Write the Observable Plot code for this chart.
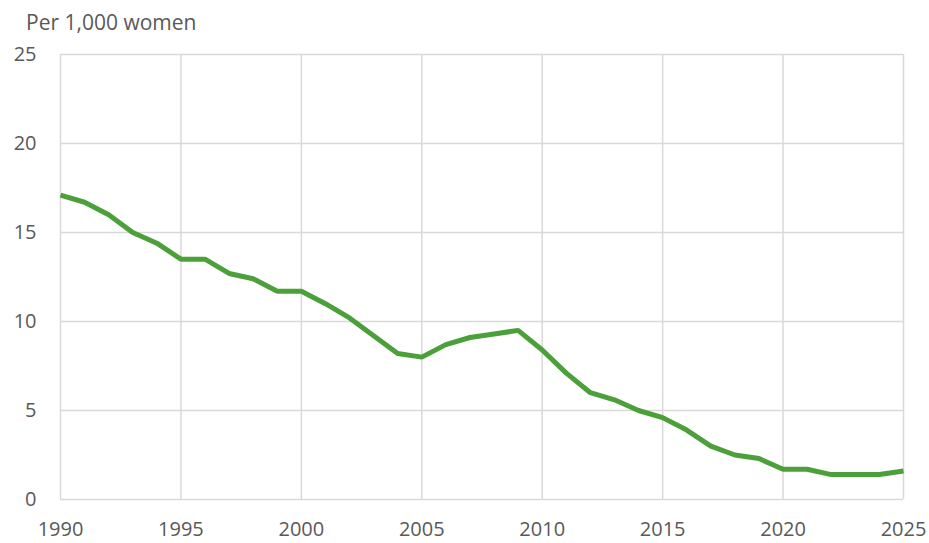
<!DOCTYPE html>
<html>
<head>
<meta charset="utf-8">
<script src="https://cdn.jsdelivr.net/npm/d3@7"></script>
<script src="https://cdn.jsdelivr.net/npm/@observablehq/plot@0.6"></script>
<style>
  html, body { margin: 0; padding: 0; background: #fff; }
  body { width: 929px; height: 543px; overflow: hidden; font-family: "Open Sans", sans-serif; }
  #title { height: 36px; box-sizing: border-box; padding: 10px 0 0 26px; font-size: 21px; color: #595959; line-height: 24px; white-space: nowrap; }
  svg { display: block; }
</style>
</head>
<body>
<div id="title">Per 1,000 women</div>
<div id="chart"></div>
<script>
const years = [1990,1991,1992,1993,1994,1995,1996,1997,1998,1999,2000,2001,2002,2003,2004,2005,2006,2007,2008,2009,2010,2011,2012,2013,2014,2015,2016,2017,2018,2019,2020,2021,2022,2023,2024,2025];
const rates = [17.1,16.7,16.0,15.0,14.4,13.5,13.5,12.7,12.4,11.7,11.7,11.0,10.2,9.2,8.2,8.0,8.7,9.1,9.3,9.5,8.4,7.1,6.0,5.6,5.0,4.6,3.9,3.0,2.5,2.3,1.7,1.7,1.4,1.4,1.4,1.6];
const xTicks = [1990,1995,2000,2005,2010,2015,2020,2025];
const yTicks = [0,5,10,15,20,25];

const data = years.map((y, i) => ({year: y, value: rates[i]}));

const chart = Plot.plot({
  width: 929,
  height: 507,
  marginTop: 18,
  marginBottom: 44,
  marginLeft: 60,
  marginRight: 26,
  style: {fontFamily: "Open Sans, sans-serif", fontSize: "20px", color: "#595959", background: "#fff", overflow: "visible"},
  x: {domain: [1990, 2025], ticks: xTicks, tickFormat: d => String(d), label: null},
  y: {domain: [0, 25], ticks: yTicks, label: null},
  marks: [
    Plot.gridX(xTicks, {stroke: "#d9d9d9", strokeOpacity: 1, strokeWidth: 1.5}),
    Plot.gridY(yTicks, {stroke: "#d9d9d9", strokeOpacity: 1, strokeWidth: 1.5}),
    Plot.axisX(xTicks, {tickSize: 0, tickPadding: 22, fill: "#595959", fontSize: 20, tickFormat: d => String(d)}),
    Plot.axisY(yTicks, {tickSize: 0, tickPadding: 24, fill: "#595959", fontSize: 20}),
    Plot.line(data, {x: "year", y: "value", stroke: "#4ba03a", strokeWidth: 5, strokeLinejoin: "miter", strokeLinecap: "butt"})
  ]
});
document.getElementById("chart").appendChild(chart);
</script>
</body>
</html>
